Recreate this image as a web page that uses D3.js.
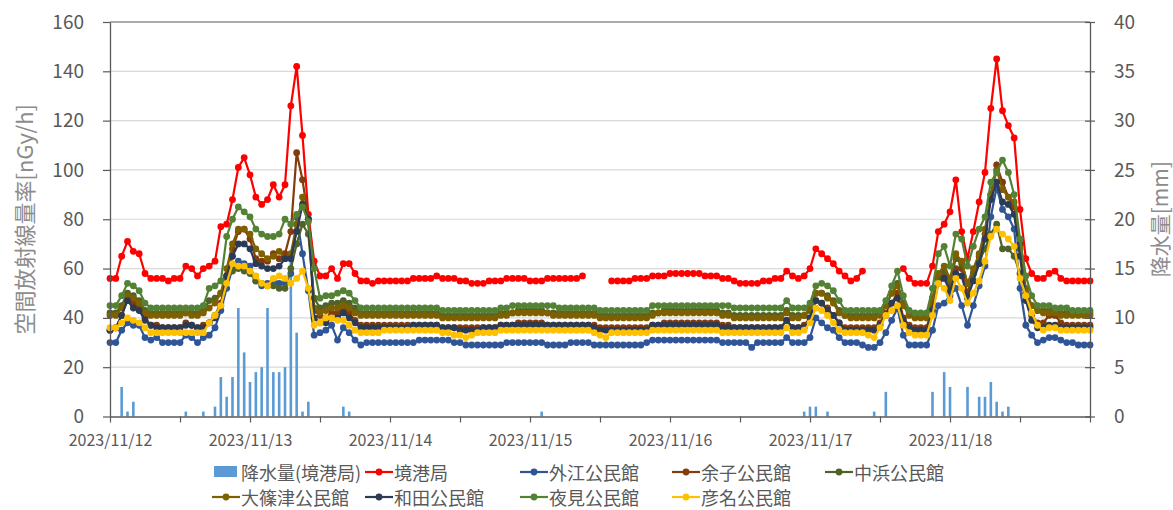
<!DOCTYPE html>
<html>
<head>
<meta charset="utf-8">
<script src="https://cdn.jsdelivr.net/npm/d3@7"></script>
<style>
  body { margin: 0; background: #fff; }
  text { font-family: "Noto Sans CJK JP", "Noto Sans", sans-serif; }
</style>
</head>
<body>
<script>
// hourly data, 2023/11/12 00:00 .. 2023/11/19 00:00 (169 points)
var dayLabels = ["2023/11/12", "2023/11/13", "2023/11/14", "2023/11/15", "2023/11/16", "2023/11/17", "2023/11/18"];
var leftTicks = [0, 20, 40, 60, 80, 100, 120, 140, 160];
var rightTicks = [0, 5, 10, 15, 20, 25, 30, 35, 40];

// 降水量(境港局) [mm]
var rain = [
  0,0,3,0.5,1.5,0,0,0,0,0,
  0,0,0,0.5,0,0,0.5,0,1,4,
  2,4,11,6.5,3.5,4.5,5,11,4.5,4.5,
  5,16,8.5,0.5,1.5,0,0,0,0,0,
  1,0.5,0,0,0,0,0,0,0,0,
  0,0,0,0,0,0,0,0,0,0,
  0,0,0,0,0,0,0,0,0,0,
  0,0,0,0,0.5,0,0,0,0,0,
  0,0,0,0,0,0,0,0,0,0,
  0,0,0,0,0,0,0,0,0,0,
  0,0,0,0,0,0,0,0,0,0,
  0,0,0,0,0,0,0,0,0,0.5,
  1,1,0,0.5,0,0,0,0,0,0,
  0,0.5,0,2.5,0,0,0,0,0,0,
  0,2.5,0,4.5,3,0,0,3,0,2,
  2,3.5,1.5,0.5,1,0,0,0,0,0,
  0,0,0,0,0,0,0,0,0
];

// 空間放射線量率 [nGy/h]
var sakaiminato = [
  56,56,65,71,67,66,58,56,56,56,
  55,56,56,61,60,57,60,61,63,77,
  78,88,101,105,98,89,86,88,94,89,
  94,126,142,114,82,63,57,57,60,56,
  62,62,58,55,55,54,55,55,55,55,
  55,55,56,56,56,56,57,56,56,56,
  55,55,54,54,54,55,55,55,56,56,
  56,56,55,55,55,56,56,56,56,56,
  56,57,null,null,null,null,55,55,55,55,
  56,56,56,57,57,57,58,58,58,58,
  58,58,57,57,57,56,56,55,54,54,
  54,54,55,55,56,56,59,57,56,57,
  60,68,66,64,62,59,57,55,56,59,
  null,null,null,null,null,null,60,56,54,54,
  54,61,75,78,83,96,75,64,75,87,
  99,125,145,124,118,113,84,64,58,56,
  56,58,59,56,55,55,55,55,55
];
var sotoe = [
  30,30,35,38,37,37,32,31,32,30,
  30,30,30,33,32,30,32,33,36,43,
  52,60,63,62,61,55,53,54,55,54,
  54,58,81,66,51,33,34,35,37,31,
  36,34,31,29,30,30,30,30,30,30,
  30,30,30,31,31,31,31,31,31,30,
  30,29,29,29,29,29,29,29,30,30,
  30,30,30,30,30,29,29,29,29,30,
  30,30,30,29,29,29,29,29,29,29,
  29,29,30,31,31,31,31,31,31,31,
  31,31,31,31,31,30,30,30,30,30,
  28,30,30,30,30,30,32,30,30,30,
  32,40,38,36,35,32,30,30,30,29,
  28,28,30,34,39,44,33,29,29,29,
  29,35,45,46,49,52,45,37,45,53,
  61,81,93,84,81,76,52,37,33,30,
  31,32,32,31,30,30,29,29,29
];
var amariko = [
  35,36,41,48,46,44,40,37,37,36,
  36,36,36,38,37,36,37,38,41,46,
  57,68,75,76,72,64,63,63,66,64,
  66,75,107,96,80,43,41,40,42,42,
  44,42,39,37,37,37,37,37,37,37,
  37,37,37,37,37,37,37,36,36,36,
  36,36,36,36,36,36,36,37,37,37,
  38,38,38,38,38,37,37,37,37,37,
  37,37,37,37,36,36,36,36,36,36,
  36,36,36,37,37,38,38,38,38,38,
  38,38,38,38,38,37,37,36,36,36,
  36,36,36,36,36,36,39,36,36,37,
  40,47,46,44,41,38,36,36,36,36,
  36,36,38,42,46,50,40,37,36,36,
  36,45,56,58,53,60,60,50,58,65,
  74,90,102,95,89,85,70,50,41,38,
  38,41,41,38,37,37,37,37,37
];
var nakahama = [
  42,42,45,50,49,47,43,42,42,42,
  42,42,42,42,42,42,43,47,48,50,
  56,59,60,59,58,55,54,53,53,52,
  52,60,70,78,74,48,44,45,46,46,
  47,46,44,42,42,42,42,42,42,42,
  42,42,42,42,42,42,42,41,41,41,
  41,41,41,41,41,41,41,42,42,42,
  43,43,43,43,43,42,42,42,42,42,
  42,42,42,42,41,41,41,41,41,41,
  41,41,41,42,42,43,43,43,43,43,
  43,43,43,43,43,42,42,41,41,41,
  41,41,41,41,41,41,43,41,41,41,
  43,50,50,49,47,43,41,41,41,41,
  41,41,42,45,50,54,46,42,41,41,
  41,48,57,59,55,64,62,54,58,63,
  68,74,78,68,68,65,58,50,45,43,
  43,43,42,42,42,42,42,42,42
];
var oshinozu = [
  41,41,44,49,48,46,42,41,41,41,
  41,41,41,42,41,41,42,44,46,50,
  60,70,76,76,74,68,66,64,65,67,
  64,66,78,89,80,44,42,43,44,44,
  45,44,42,41,41,41,41,41,41,41,
  41,41,41,41,41,41,41,40,40,40,
  40,40,40,40,40,40,40,41,41,42,
  42,42,42,42,42,42,41,41,41,41,
  41,41,41,41,40,40,40,40,40,40,
  40,40,40,41,42,42,42,42,42,42,
  42,42,42,42,42,41,41,40,40,40,
  40,40,40,40,40,40,42,40,40,41,
  44,50,50,48,46,42,41,40,40,40,
  40,40,41,45,50,53,45,41,40,40,
  40,48,58,61,56,66,63,54,60,66,
  76,90,100,92,89,87,68,52,45,43,
  42,42,42,41,41,41,41,41,41
];
var wada = [
  35,36,41,47,44,43,39,37,36,36,
  36,36,36,37,37,36,36,38,40,45,
  57,65,70,70,68,62,61,60,60,61,
  64,64,75,86,80,40,38,38,40,40,
  42,40,38,36,36,36,36,36,36,36,
  36,36,37,37,37,37,37,36,36,36,
  35,35,35,35,36,36,36,37,37,37,
  37,37,37,37,37,37,37,37,37,37,
  37,37,37,36,35,35,35,35,35,35,
  35,35,35,37,37,37,37,37,37,37,
  37,37,37,37,37,36,36,36,36,36,
  36,36,36,36,36,36,39,36,36,36,
  40,47,46,43,41,38,35,35,35,35,
  35,35,37,41,46,48,39,36,35,35,
  35,43,54,56,51,58,57,48,55,62,
  72,88,95,87,86,82,65,47,39,36,
  36,37,37,36,36,36,36,36,36
];
var yomi = [
  45,45,49,54,53,51,46,44,44,44,
  44,44,44,44,44,44,45,52,53,55,
  73,80,85,83,81,76,74,73,73,74,
  80,78,82,85,79,60,48,49,49,50,
  51,50,47,44,44,44,44,44,44,44,
  44,44,44,44,44,44,44,43,43,43,
  43,43,43,43,43,43,43,44,44,45,
  45,45,45,45,45,45,45,44,44,44,
  44,44,44,44,43,43,43,43,43,43,
  43,43,43,45,45,45,45,45,45,45,
  45,45,45,45,45,45,45,44,44,44,
  44,44,44,44,44,44,47,44,44,44,
  46,53,54,53,51,47,43,43,43,43,
  43,43,43,47,53,59,49,43,42,42,
  42,52,66,69,61,74,72,61,69,76,
  81,95,99,104,99,90,72,57,49,45,
  45,45,44,44,44,43,43,43,43
];
var hikona = [
  36,36,38,40,39,38,36,34,34,34,
  34,34,34,34,34,34,34,38,41,45,
  54,62,61,61,59,57,54,53,56,57,
  56,54,56,59,52,37,38,40,40,39,
  39,37,35,34,34,34,34,35,35,35,
  35,35,35,35,35,35,35,34,34,33,
  33,32,33,34,34,34,34,35,35,35,
  35,35,35,35,35,35,35,35,35,35,
  35,35,35,34,33,32,34,34,34,34,
  34,34,34,35,35,35,35,35,35,35,
  35,35,35,35,35,34,34,34,34,34,
  34,34,34,34,34,34,36,34,34,35,
  38,44,43,41,38,35,34,34,34,34,
  33,32,36,41,43,45,37,34,33,33,
  33,41,54,52,47,56,52,46,50,55,
  63,73,76,74,72,69,56,49,42,37,
  35,36,36,35,35,35,35,35,35
];

var seriesNames = ["境港局", "外江公民館", "余子公民館", "中浜公民館", "大篠津公民館", "和田公民館", "夜見公民館", "彦名公民館"];
var seriesValues = [sakaiminato, sotoe, amariko, nakahama, oshinozu, wada, yomi, hikona];
var seriesColors = ["#ff0000", "#2f5597", "#843c0c", "#4f6228", "#7f6000", "#2b3a55", "#548235", "#ffc000"];
var rainName = "降水量(境港局)";
var rainColor = "#5b9bd5";

var W = 1173, H = 510;
var plot = {left: 110, right: 1090, top: 22, bottom: 416.5};
var axisColor = "#595959", gridColor = "#d9d9d9", textColor = "#595959";

var svg = d3.select("body").append("svg")
    .attr("width", W)
    .attr("height", H);

// scales
var x = d3.scaleLinear().domain([0, rain.length - 1]).range([plot.left, plot.right]);
var y = d3.scaleLinear().domain([0, 160]).range([plot.bottom, plot.top]);
var y2 = d3.scaleLinear().domain([0, 40]).range([plot.bottom, plot.top]);

// gridlines
svg.append("g").selectAll("line")
    .data(leftTicks.filter(function(d) { return d > 0 && d < 160; }))
  .enter().append("line")
    .attr("x1", plot.left).attr("x2", plot.right)
    .attr("y1", function(d) { return y(d); })
    .attr("y2", function(d) { return y(d); })
    .attr("stroke", gridColor).attr("stroke-width", 1.2);

// top border
svg.append("line")
    .attr("x1", plot.left).attr("x2", plot.right)
    .attr("y1", plot.top).attr("y2", plot.top)
    .attr("stroke", axisColor).attr("stroke-width", 1.2);

// rain bars (right axis)
svg.append("g").selectAll("rect")
    .data(rain.map(function(d, i) { return {i: i, v: d}; }).filter(function(d) { return d.v > 0; }))
  .enter().append("rect")
    .attr("x", function(d) { return x(d.i) - 1.3; })
    .attr("width", 2.6)
    .attr("y", function(d) { return y2(d.v); })
    .attr("height", function(d) { return y2(0) - y2(d.v); })
    .attr("fill", rainColor);

// lines + markers
var valueline = d3.line()
    .defined(function(d) { return d != null; })
    .x(function(d, i) { return x(i); })
    .y(function(d) { return y(d); });

seriesValues.forEach(function(vals, k) {
  var g = svg.append("g");
  g.append("path")
      .datum(vals)
      .attr("d", valueline)
      .attr("fill", "none")
      .attr("stroke", seriesColors[k])
      .attr("stroke-width", 2.2);
  g.selectAll("circle")
      .data(vals.map(function(d, i) { return {i: i, v: d}; }).filter(function(d) { return d.v != null; }))
    .enter().append("circle")
      .attr("cx", function(d) { return x(d.i); })
      .attr("cy", function(d) { return y(d.v); })
      .attr("r", 3.4)
      .attr("fill", seriesColors[k]);
});

// axes
var xTicks = d3.range(0, rain.length, 12);
var xAxis = svg.append("g")
    .attr("transform", "translate(0," + plot.bottom + ")")
    .call(d3.axisBottom(x).tickValues(xTicks).tickSizeInner(6).tickSizeOuter(0).tickPadding(12)
      .tickFormat(function(d) { return d % 24 === 0 && dayLabels[d / 24] ? dayLabels[d / 24] : ""; }));

var leftAxis = svg.append("g")
    .attr("transform", "translate(" + plot.left + ",0)")
    .call(d3.axisLeft(y).tickValues(leftTicks).tickSizeInner(7).tickSizeOuter(0).tickPadding(19));

var rightAxis = svg.append("g")
    .attr("transform", "translate(" + plot.right + ",0)")
    .call(d3.axisRight(y2).tickValues(rightTicks).tickSizeInner(5).tickSizeOuter(0).tickPadding(19));
rightAxis.selectAll(".tick line").attr("x1", -5);

[xAxis, leftAxis, rightAxis].forEach(function(a) {
  a.select(".domain").attr("stroke", axisColor).attr("stroke-width", 1.3);
  a.selectAll(".tick line").attr("stroke", axisColor).attr("stroke-width", 1.2);
  a.selectAll("text").attr("fill", textColor).style("font-family", '"Noto Sans CJK JP", "Noto Sans", sans-serif');
});
leftAxis.selectAll("text").attr("font-size", 19);
rightAxis.selectAll("text").attr("font-size", 19);
xAxis.selectAll("text").attr("font-size", 16);

// axis titles
svg.append("text")
    .attr("transform", "translate(23," + ((plot.top + plot.bottom) / 2) + ") rotate(-90)")
    .attr("text-anchor", "middle")
    .attr("dominant-baseline", "central")
    .attr("font-size", 22)
    .attr("fill", "#8c8c8c")
    .text("空間放射線量率[nGy/h]");

svg.append("text")
    .attr("transform", "translate(1159," + ((plot.top + plot.bottom) / 2) + ") rotate(-90)")
    .attr("text-anchor", "middle")
    .attr("dominant-baseline", "central")
    .attr("font-size", 21)
    .attr("fill", "#8c8c8c")
    .text("降水量[mm]");

// legend
var legendCols = [212, 365, 520, 672, 825];
var legendRows = [472, 497];
var legendItems = [{name: rainName, color: rainColor, bar: true}];
seriesNames.forEach(function(n, k) { legendItems.push({name: n, color: seriesColors[k], bar: false}); });

var legend = svg.append("g");
legendItems.forEach(function(it, k) {
  var lx = legendCols[k % 5], ly = legendRows[Math.floor(k / 5)];
  var g = legend.append("g");
  if (it.bar) {
    g.append("rect").attr("x", lx + 2).attr("y", ly - 6).attr("width", 23).attr("height", 11).attr("fill", it.color);
  } else {
    g.append("line").attr("x1", lx).attr("x2", lx + 28).attr("y1", ly).attr("y2", ly)
        .attr("stroke", it.color).attr("stroke-width", 2.2);
    g.append("circle").attr("cx", lx + 14).attr("cy", ly).attr("r", 3.4).attr("fill", it.color);
  }
  g.append("text")
      .attr("x", lx + 29)
      .attr("y", ly)
      .attr("dominant-baseline", "central")
      .attr("font-size", 18)
      .attr("fill", textColor)
      .text(it.name);
});
</script>
</body>
</html>
